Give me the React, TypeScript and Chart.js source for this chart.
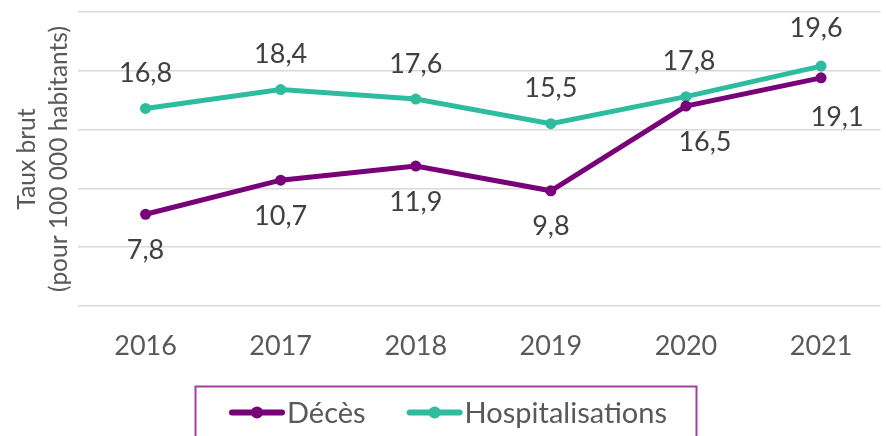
import React, { useEffect, useRef } from 'react';
import { Chart, registerables } from 'chart.js';

Chart.register(...registerables);

// ---- data ----
const years = [2016, 2017, 2018, 2019, 2020, 2021];
const decesValues = [7.8, 10.7, 11.9, 9.8, 17.0, 19.4];
const hospValues = [16.8, 18.4, 17.6, 15.5, 17.8, 20.4];
const decesLabels = ['7,8', '10,7', '11,9', '9,8', '16,5', '19,1'];
const hospLabels = ['16,8', '18,4', '17,6', '15,5', '17,8', '19,6'];
const seriesNames = ['Décès', 'Hospitalisations'];
const yTitle = ['Taux brut', '(pour 100 000 habitants)'];
const yMin = 0;
const yMax = 25;
const yStep = 5;

const PURPLE = '#780078';
const TEAL = '#2ebc9e';
const FONT = 'Lato';

// manual label nudges (label placement style, [dx, dy]) per dataset
const labelNudges: Record<number, Record<number, [number, number]>> = {
  0: { 4: [19, 0], 5: [16, 3] },
  1: { 4: [3, 0], 5: [-5, -3] },
};

const valueLabelPlugin = {
  id: 'valueLabels',
  afterDatasetsDraw(chart: any) {
    const ctx = chart.ctx;
    ctx.save();
    ctx.font = `27px ${FONT}`;
    ctx.fillStyle = '#404040';
    ctx.textAlign = 'center';
    ctx.textBaseline = 'middle';
    chart.data.datasets.forEach((ds: any, di: number) => {
      const meta = chart.getDatasetMeta(di);
      meta.data.forEach((pt: any, i: number) => {
        const above = ds.labelAbove;
        const n = (labelNudges[di] && labelNudges[di][i]) || [0, 0];
        ctx.fillText(ds.valueLabels[i], pt.x + n[0], pt.y + (above ? -35 : 36) + n[1]);
      });
    });
    ctx.restore();
  },
};

const boxLegendPlugin = {
  id: 'boxLegend',
  afterDraw(chart: any) {
    const ctx = chart.ctx;
    ctx.save();
    ctx.strokeStyle = '#a040a0';
    ctx.lineWidth = 2;
    ctx.strokeRect(195.5, 386.5, 501, 80);
    const cy = 412.5;
    ctx.font = `29px ${FONT}`;
    ctx.textBaseline = 'middle';
    ctx.textAlign = 'left';
    let x = 229;
    chart.data.datasets.forEach((ds: any) => {
      const color = ds.borderColor;
      ctx.strokeStyle = color;
      ctx.lineWidth = 6;
      ctx.lineCap = 'round';
      ctx.beginPath();
      ctx.moveTo(x + 3, cy);
      ctx.lineTo(x + 53, cy);
      ctx.stroke();
      ctx.fillStyle = color;
      ctx.beginPath();
      ctx.arc(x + 28, cy, 6, 0, Math.PI * 2);
      ctx.fill();
      x += 58;
      ctx.fillStyle = '#595959';
      ctx.fillText(ds.label, x, cy + 1);
      x += ctx.measureText(ds.label).width + 41;
    });
    ctx.restore();
  },
};

export default function App() {
  const canvasRef = useRef<HTMLCanvasElement | null>(null);

  useEffect(() => {
    if (!canvasRef.current) return;
    const chart = new Chart(canvasRef.current, {
      type: 'line',
      data: {
        datasets: [
          {
            label: seriesNames[0],
            data: years.map((y, i) => ({ x: y, y: decesValues[i] })),
            borderColor: PURPLE,
            backgroundColor: PURPLE,
            borderWidth: 5,
            pointRadius: 5.5,
            pointHoverRadius: 5.5,
            pointBackgroundColor: PURPLE,
            pointBorderWidth: 0,
            tension: 0,
            valueLabels: decesLabels,
            labelAbove: false,
          } as any,
          {
            label: seriesNames[1],
            data: years.map((y, i) => ({ x: y, y: hospValues[i] })),
            borderColor: TEAL,
            backgroundColor: TEAL,
            borderWidth: 5,
            pointRadius: 5.5,
            pointHoverRadius: 5.5,
            pointBackgroundColor: TEAL,
            pointBorderWidth: 0,
            tension: 0,
            valueLabels: hospLabels,
            labelAbove: true,
          } as any,
        ],
      },
      options: {
        animation: false,
        responsive: false,
        maintainAspectRatio: false,
        layout: { padding: { top: 12, right: 0, bottom: 0, left: 0 } },
        plugins: {
          legend: { display: false },
          tooltip: { enabled: false },
        },
        scales: {
          x: {
            type: 'linear',
            min: 2015.5,
            max: 2021.44,
            grid: { display: false, drawTicks: false, tickLength: 0 },
            border: { display: false },
            afterBuildTicks: (axis: any) => {
              axis.ticks = years.map((v) => ({ value: v }));
            },
            afterFit: (axis: any) => {
              axis.height = 130;
            },
            ticks: {
              callback: (v: any) => String(v),
              font: { family: FONT, size: 27 },
              color: '#595959',
              padding: 24,
              maxRotation: 0,
              autoSkip: false,
            },
          },
          y: {
            min: yMin,
            max: yMax,
            ticks: { display: false, stepSize: yStep },
            grid: { color: '#d9d9d9', lineWidth: 1.5, drawTicks: false, tickLength: 0 },
            border: { display: false },
            title: {
              display: true,
              text: yTitle,
              font: { family: FONT, size: 24.5, lineHeight: 1.3 },
              color: '#595959',
              padding: { top: 11, bottom: 0 },
            },
            afterFit: (axis: any) => {
              axis.width = 78;
            },
          },
        },
      } as any,
      plugins: [valueLabelPlugin, boxLegendPlugin],
    });
    return () => chart.destroy();
  }, []);

  return (
    <div style={{ position: 'absolute', left: 0, top: 0, width: 886, height: 436, background: '#fff' }}>
      <canvas ref={canvasRef} width={886} height={436} />
    </div>
  );
}
